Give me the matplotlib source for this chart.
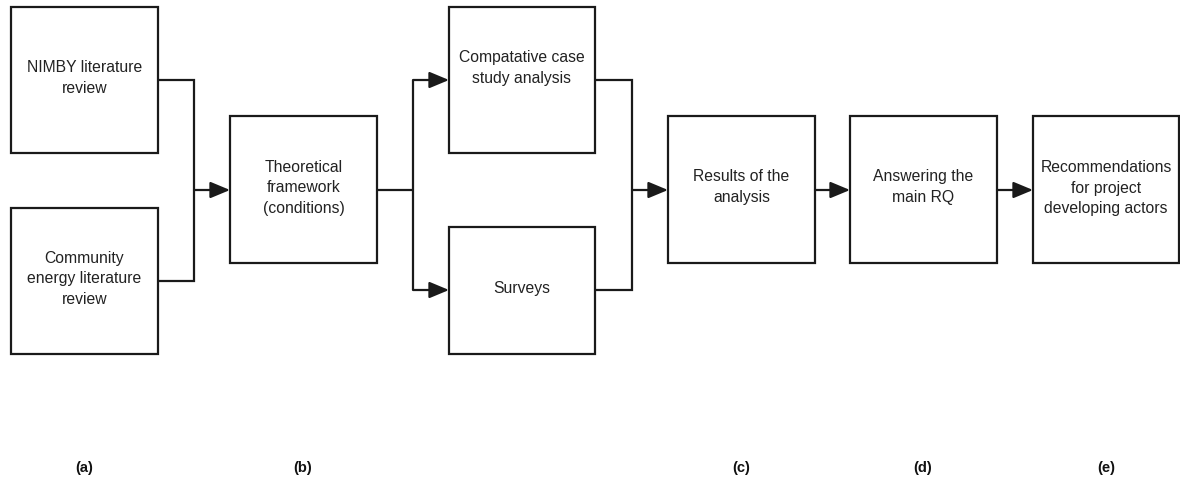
import matplotlib
matplotlib.use("Agg")
import matplotlib.pyplot as plt
from matplotlib.patches import Rectangle, FancyArrowPatch

plt.rcParams['font.family'] = ['Liberation Sans', 'DejaVu Sans']

# content
box_texts = [
    "NIMBY literature\nreview",
    "Community\nenergy literature\nreview",
    "Theoretical\nframework\n(conditions)",
    "Compatative case\nstudy analysis",
    "Surveys",
    "Results of the\nanalysis",
    "Answering the\nmain RQ",
    "Recommendations\nfor project\ndeveloping actors",
]
stage_labels = ["(a)", "(b)", "(c)", "(d)", "(e)"]

# layout (pixels)
box_x0 = [11, 11, 230, 449, 449, 668, 850, 1033]
box_x1 = [158, 158, 377, 595, 595, 815, 997, 1179]
box_y0 = [7, 208, 116, 7, 227, 116, 116, 116]
box_y1 = [153, 354, 263, 153, 354, 263, 263, 263]
text_y = [78, 279, 188, 68, 289, 187, 187, 188]
label_x = [84, 303, 741, 923, 1106]
label_y = 468

W, H = 1180, 483
fig = plt.figure(figsize=(W / 100, H / 100), dpi=100)
ax = fig.add_axes([0, 0, 1, 1])
ax.set_xlim(0, W)
ax.set_ylim(H, 0)
ax.axis('off')

EC = '#1a1a1a'
LW = 1.6

for t, x0, x1, y0, y1, ty in zip(box_texts, box_x0, box_x1, box_y0, box_y1, text_y):
    ax.add_patch(Rectangle((x0, y0), x1 - x0, y1 - y0, fill=False, ec=EC, lw=LW))
    ax.text((x0 + x1) / 2, ty, t, ha='center', va='center', fontsize=11.3,
            color='#222222', linespacing=1.42)

def line(xs, ys):
    ax.plot(xs, ys, color=EC, lw=LW, solid_capstyle='butt', solid_joinstyle='miter')

def arrow(x0, x1, y):
    ax.add_patch(FancyArrowPatch((x0, y), (x1, y), arrowstyle='-|>,head_length=12,head_width=5',
                                 mutation_scale=1, color=EC, lw=LW, shrinkA=0, shrinkB=0))

# (a) -> (b)
line([158, 194, 194, 158], [80, 80, 281, 281])
arrow(194, 230, 190)
# (b) -> branches
line([377, 413], [190, 190])
line([413, 413], [80, 290])
arrow(413, 449, 80)
arrow(413, 449, 290)
# branches -> (c)
line([595, 632, 632, 595], [80, 80, 290, 290])
arrow(632, 668, 190)
# (c) -> (d) -> (e)
arrow(815, 850, 190)
arrow(997, 1033, 190)

for lx, lt in zip(label_x, stage_labels):
    ax.text(lx, label_y, lt, ha='center', va='center', fontsize=10.5,
            fontweight='bold', color='#111111')

fig.savefig("out.png", dpi=100)
